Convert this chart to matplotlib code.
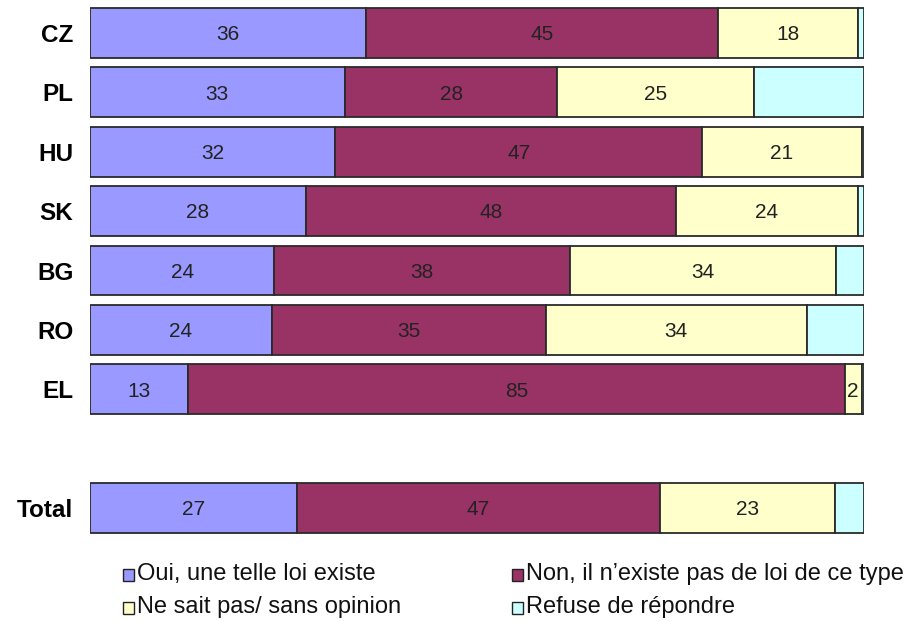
import matplotlib
matplotlib.use("Agg")
import matplotlib.pyplot as plt
from matplotlib.patches import Rectangle

plt.rcParams['font.family'] = ['Liberation Sans', 'DejaVu Sans']

categories = ["CZ", "PL", "HU", "SK", "BG", "RO", "EL", "Total"]
positions = [0, 1, 2, 3, 4, 5, 6, 8]
oui = [35.7, 32.9, 31.7, 27.9, 23.8, 23.5, 12.7, 26.7]
non = [45.4, 27.5, 47.4, 47.8, 38.2, 35.4, 84.8, 46.9]
nsp = [18.1, 25.4, 20.6, 23.5, 34.4, 33.7, 2.2, 22.6]
refuse = [0.8, 14.2, 0.3, 0.8, 3.6, 7.4, 0.3, 3.8]

series = [oui, non, nsp, refuse]
labels = ["Oui, une telle loi existe", "Non, il n\u2019existe pas de loi de ce type",
          "Ne sait pas/ sans opinion", "Refuse de r\u00e9pondre"]
colors = ["#9999FF", "#993366", "#FFFFCC", "#CCFFFF"]
show_values = [True, True, True, False]

W, H = 910, 622
fig = plt.figure(figsize=(W / 100, H / 100), dpi=100)
ax = fig.add_axes([90 / W, 1 - 537.7 / H, (864 - 90) / W, (537.7 - 3.3) / H])

left = [0.0] * len(categories)
for vals, col, show in zip(series, colors, show_values):
    ax.barh(positions, vals, left=left, height=0.84, color=col,
            edgecolor="#2a2a2a", linewidth=1.3)
    if show:
        for p, l, v in zip(positions, left, vals):
            ax.text(l + v / 2, p + 0.03, f"{round(v)}", ha="center", va="center",
                    fontsize=15, color="#222222")
    left = [a + b for a, b in zip(left, vals)]

ax.set_xlim(0, 100)
ax.set_ylim(8.5, -0.5)
ax.set_yticks(positions)
ax.set_yticklabels(categories, fontsize=17.5, fontweight="bold")
ax.tick_params(axis="y", length=0, pad=12)
ax.set_xticks([])
for s in ax.spines.values():
    s.set_visible(False)

# legend
leg_pos = [(123, 574), (512, 574), (123, 607), (512, 607)]
for (x, y), lab, col in zip(leg_pos, labels, colors):
    fig.patches.append(Rectangle((x / W, 1 - (y + 7) / H), 11 / W, 12 / H,
                                 transform=fig.transFigure, facecolor=col,
                                 edgecolor="#222222", linewidth=1))
    fig.text((x + 14) / W, 1 - y / H, lab, ha="left", va="center",
             fontsize=17, color="#111111")

fig.savefig("out.png", dpi=100)
